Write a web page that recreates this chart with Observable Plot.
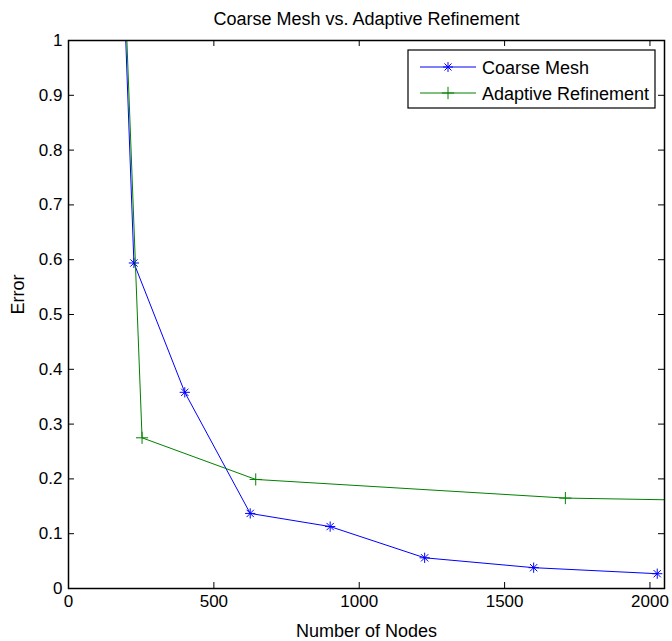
<!DOCTYPE html>
<html>
<head>
<meta charset="utf-8">
<script src="https://cdn.jsdelivr.net/npm/d3@7"></script>
<script src="https://cdn.jsdelivr.net/npm/@observablehq/plot@0.6"></script>
<style>
  html, body { margin: 0; padding: 0; background: #fff; }
  svg { font-family: "Liberation Sans", Arial, sans-serif; }
</style>
</head>
<body>
<div id="chart"></div>
<script>
const title = "Coarse Mesh vs. Adaptive Refinement";
const xLabel = "Number of Nodes";
const yLabel = "Error";
const seriesNames = ["Coarse Mesh", "Adaptive Refinement"];
const seriesColors = ["#0000ff", "#008000"];

const coarseNodes = [100, 225, 400, 625, 900, 1225, 1600, 2025];
const coarseError = [2.4, 0.594, 0.358, 0.137, 0.113, 0.056, 0.038, 0.027];
const adaptiveNodes = [100, 253, 644, 1709, 2600];
const adaptiveError = [2.4, 0.275, 0.199, 0.165, 0.157];

const xTicks = [0, 500, 1000, 1500, 2000];
const yTicks = [0, 0.1, 0.2, 0.3, 0.4, 0.5, 0.6, 0.7, 0.8, 0.9, 1];
const xDomain = [0, 2050];
const yDomain = [0, 1];

const coarse = coarseNodes.map((x, i) => ({x, y: coarseError[i]}));
const adaptive = adaptiveNodes.map((x, i) => ({x, y: adaptiveError[i]}));

const W = 672, H = 641;
const mT = 40, mB = 53, mL = 68, mR = 8;
const fW = W - mL - mR, fH = H - mT - mB;
const tick = 6;

const plot = Plot.plot({
  width: W,
  height: H,
  marginTop: mT,
  marginBottom: mB,
  marginLeft: mL,
  marginRight: mR,
  style: {fontFamily: "Liberation Sans, Arial, sans-serif", background: "white"},
  x: {domain: xDomain},
  y: {domain: yDomain},
  marks: [
    Plot.line(coarse, {x: "x", y: "y", stroke: seriesColors[0], strokeWidth: 1, clip: true}),
    Plot.dot(coarse, {x: "x", y: "y", symbol: "plus", r: 3.4, stroke: seriesColors[0], strokeWidth: 1, clip: true}),
    Plot.dot(coarse, {x: "x", y: "y", symbol: "times", r: 3.4, stroke: seriesColors[0], strokeWidth: 1, clip: true}),
    Plot.line(adaptive, {x: "x", y: "y", stroke: seriesColors[1], strokeWidth: 1, clip: true}),
    Plot.dot(adaptive, {x: "x", y: "y", symbol: "plus", r: 4, stroke: seriesColors[1], strokeWidth: 1, clip: true}),
    Plot.tickX(xTicks, {x: d => d, insetTop: fH - tick, stroke: "black"}),
    Plot.tickX(xTicks, {x: d => d, insetBottom: fH - tick, stroke: "black"}),
    Plot.tickY(yTicks, {y: d => d, insetRight: fW - tick, stroke: "black"}),
    Plot.tickY(yTicks, {y: d => d, insetLeft: fW - tick, stroke: "black"}),
    Plot.frame({stroke: "black", strokeWidth: 1.5}),
    Plot.axisX(xTicks, {tickSize: 0, tickPadding: 6, fontSize: 17, label: null, fill: "black", tickFormat: d => String(d)}),
    Plot.axisY(yTicks, {tickSize: 0, tickPadding: 6, fontSize: 17, label: null, fill: "black", tickFormat: d => String(d)}),
    Plot.text([title], {frameAnchor: "top", dy: -16, lineAnchor: "bottom", fontSize: 18, fill: "black"}),
    Plot.text([xLabel], {frameAnchor: "bottom", dy: 43, lineAnchor: "middle", fontSize: 18, fill: "black"}),
    Plot.text([yLabel], {frameAnchor: "left", dx: -50, rotate: -90, lineAnchor: "middle", fontSize: 18, fill: "black"})
  ]
});

// Legend box (MATLAB-style, inside the axes, top right)
const svg = d3.select(plot);
const lg = svg.append("g").attr("class", "legend");
const bx = 408, by = 50, bw = 247, bh = 58;
lg.append("rect").attr("x", bx).attr("y", by).attr("width", bw).attr("height", bh)
  .attr("fill", "white").attr("stroke", "black").attr("stroke-width", 1.2);
const rowY = [67, 93];
seriesNames.forEach((name, i) => {
  const y = rowY[i];
  const c = seriesColors[i];
  lg.append("line").attr("x1", 420).attr("x2", 476).attr("y1", y).attr("y2", y)
    .attr("stroke", c).attr("stroke-width", 1);
  const g = lg.append("g").attr("transform", `translate(448,${y})`)
    .attr("stroke", c).attr("fill", "none").attr("stroke-width", 1);
  if (i === 0) {
    g.append("path").attr("d", d3.symbol(d3.symbolPlus, 34)());
    g.append("path").attr("d", d3.symbol(d3.symbolTimes, 34)());
  } else {
    g.append("path").attr("d", d3.symbol(d3.symbolPlus, 52)());
  }
  lg.append("text").attr("x", 482).attr("y", y + 7).attr("font-size", 18)
    .attr("text-anchor", "start").attr("fill", "black").text(name);
});

document.getElementById("chart").appendChild(plot);
</script>
</body>
</html>
